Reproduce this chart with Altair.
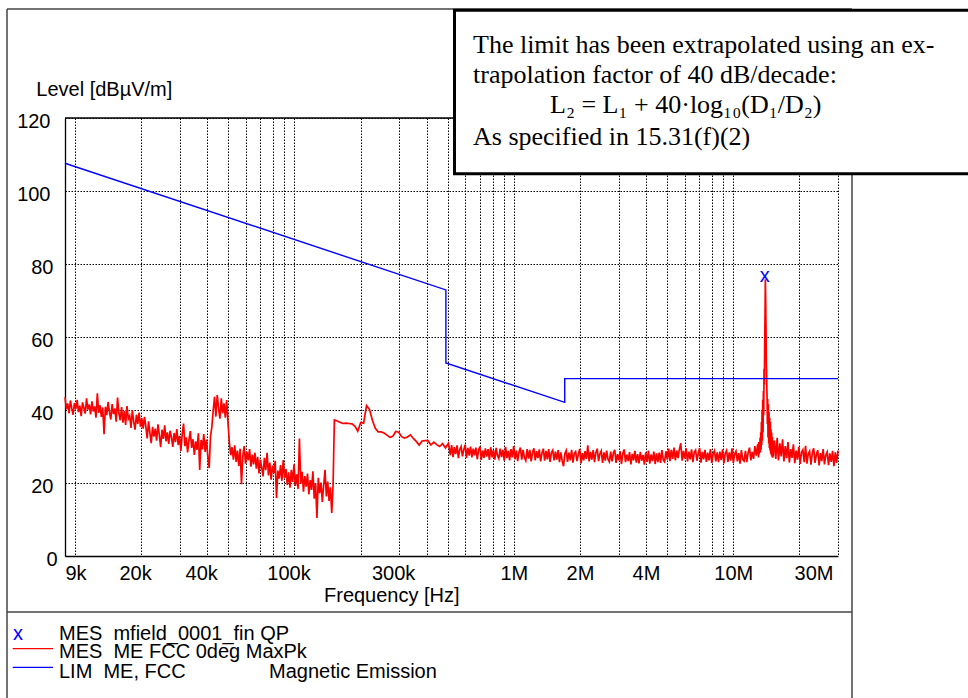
import altair as alt
import numpy as np
import pandas as pd

# ---------------- axis ticks ----------------
GRID_FREQS = [9e3, 1e4, 2e4, 3e4, 4e4, 5e4, 6e4, 7e4, 8e4, 9e4,
              1e5, 2e5, 3e5, 4e5, 5e5, 6e5, 7e5, 8e5, 9e5,
              1e6, 2e6, 3e6, 4e6, 5e6, 6e6, 7e6, 8e6, 9e6,
              1e7, 2e7, 3e7]
LABEL_FREQS = [9000, 20000, 40000, 100000, 300000, 1000000, 2000000, 4000000, 10000000, 30000000]
LEVEL_TICKS = [0, 20, 40, 60, 80, 100, 120]

seg_a_range = (9.0e3, 150.0e3)
seg_a_levels = [
    43.5, 40.2, 41.8, 39.1, 42.6, 40.5, 38.7, 41.9, 40.3, 42.8, 39.4, 41.2, 38.3, 42.1, 40.6, 39.0, 43.2, 40.1, 41.5, 38.8,
    42.4, 39.6, 41.0, 37.9, 44.6, 39.2, 41.3, 38.1, 40.7, 33.4, 40.9, 38.6, 42.2, 39.5, 37.4, 41.6, 38.9, 40.4, 36.8, 43.4,
    39.1, 37.2, 40.8, 36.5, 39.7, 35.9, 41.1, 37.6, 38.4, 35.1, 39.9, 36.8, 34.6, 38.7, 36.2, 39.3, 35.4, 37.8, 34.9, 38.1,
    35.5, 32.2, 36.9, 33.8, 30.9, 35.4, 32.7, 34.9, 31.6, 36.1, 33.2, 29.8, 34.6, 32.1, 35.8, 31.4, 33.9, 30.7, 34.3, 32.6,
    29.9, 33.7, 31.2, 34.8, 30.4, 32.9, 28.8, 33.3, 36.3, 30.1, 32.5, 28.4, 31.8, 34.2, 29.6, 32.0, 27.7, 31.4, 29.1, 33.6,
    23.6, 31.8, 29.2, 33.4, 28.5, 31.9, 27.3, 24.1, 32.7, 35.4,
    39.8, 43.6, 38.2, 44.1, 40.5, 37.6, 43.2, 39.1, 41.8, 37.9, 42.7, 36.4,
    31.2, 27.6, 29.8, 26.4, 30.3, 25.8, 28.9, 24.7, 29.4, 19.7, 27.5, 30.1, 25.3, 28.6, 26.2, 29.3, 24.5, 27.8,
    25.1, 28.3, 23.9, 27.2, 22.6, 26.4, 24.3, 21.8, 26.9, 23.5, 28.3, 22.1, 25.6, 20.9, 24.8, 22.7, 26.1, 15.9, 23.4, 21.2,
    24.9, 20.6, 26.3, 21.4, 23.8, 19.5, 22.9, 18.7, 23.6, 20.3, 25.1, 19.2, 22.4, 18.4, 32.2, 19.8, 23.1, 17.6, 21.9, 19.0,
    22.6, 16.9, 20.8, 18.1, 23.2, 15.7, 19.9, 10.4, 21.4, 17.2, 20.1, 14.8, 19.3, 23.6, 16.3, 20.4, 15.1, 18.8, 11.8, 19.5,
]
seg_b_range = (152.0e3, 503.0e3)
seg_b_levels = [
    37.3, 37.0, 36.6, 36.3, 36.4, 36.3, 36.2, 35.6, 34.2, 36.6,
    36.4, 41.2, 40.2, 37.2, 35.0, 34.0, 34.0, 33.7, 33.1, 32.5,
    32.8, 34.1, 33.9, 32.7, 32.3, 32.6, 33.2, 32.2, 31.4, 30.4,
    31.5, 31.6, 31.6, 30.4, 31.2, 30.5, 30.0, 30.8, 29.6, 30.9,
]
seg_c_range = (506.0e3, 12.9e6)
seg_c_levels = [
    30.1, 27.6, 30.4, 27.1, 29.8, 27.9, 30.3, 26.8, 29.2, 30.0, 27.3, 29.1, 30.5, 26.9, 29.6, 27.5, 30.0, 27.0, 29.4, 27.6,
    29.7, 26.5, 29.1, 30.0, 26.3, 28.9, 26.9, 29.5, 27.2, 29.3, 26.3, 29.8, 27.0, 29.0, 26.4, 29.6, 27.5, 26.7, 29.4, 27.1,
    29.1, 26.1, 29.9, 26.8, 28.8, 26.2, 29.3, 27.0, 30.1, 26.5, 28.9, 26.0, 28.6, 29.7, 26.4, 29.1, 26.9, 26.1, 29.3, 26.7,
    29.1, 25.9, 28.4, 29.5, 26.2, 28.7, 26.8, 29.2, 25.9, 28.2, 29.4, 26.1, 28.8, 26.5, 29.3, 25.8, 28.3, 29.0, 26.2, 28.6,
    26.4, 29.0, 25.7, 28.4, 26.1, 24.6, 28.0, 28.9, 25.8, 28.3, 26.2, 29.1, 25.6, 28.1, 28.6, 26.0, 27.9, 29.3, 25.4, 28.2,
    26.2, 28.7, 26.6, 30.3, 25.9, 28.5, 26.4, 29.0, 25.7, 28.3, 29.4, 26.0, 28.0, 28.8, 25.5, 28.4, 26.1, 28.9, 26.5, 25.8,
    28.6, 25.9, 28.2, 29.1, 25.5, 27.9, 26.2, 28.7, 25.2, 28.1, 29.2, 25.7, 27.8, 26.0, 28.5, 25.1, 28.0, 26.2, 28.8, 25.6,
    27.9, 25.4, 28.5, 26.1, 27.7, 25.0, 28.4, 25.8, 28.9, 25.3, 27.8, 26.0, 28.6, 25.2, 28.1, 25.7, 28.3, 25.5, 29.0, 26.3,
    25.8, 28.7, 26.4, 29.4, 26.0, 29.1, 26.6, 29.7, 26.2, 28.9, 26.8, 29.3, 30.9, 26.1, 28.8, 26.7, 29.5, 25.9, 28.6, 26.5,
    29.2, 25.7, 28.4, 29.0, 26.1, 28.1, 29.6, 25.6, 28.5, 26.5, 29.1, 25.8, 28.3, 26.2, 29.3, 25.5, 28.0, 28.8, 25.9, 28.4,
    25.7, 28.6, 26.3, 29.2, 25.4, 28.1, 28.9, 25.8, 28.4, 26.1, 29.5, 25.5, 27.9, 28.7, 25.9, 28.2, 25.3, 29.0, 26.4, 26.0,
    28.8, 25.7, 28.3, 29.7, 26.2, 28.5, 26.6, 30.1, 27.5, 30.4,
]
seg_p_range = (12.97e6, 15.27e6)
seg_p_levels = [
    30.5, 27.0, 31.2, 27.8, 30.8, 28.2, 32.4, 28.5, 33.9, 29.1,
    36.7, 30.4, 40.1, 31.6, 42.8, 33.9, 45.2, 38.6, 51.3, 47.0,
    58.9, 66.4, 75.8, 70.2, 61.5, 52.4, 47.8, 44.1, 36.2, 43.0,
    32.5, 41.6, 30.8, 39.4, 29.6, 37.9, 28.9, 36.8, 28.1, 34.7,
    27.6, 33.8, 27.2, 32.6, 26.9, 31.5, 27.3, 30.2,
]
seg_d_range = (15.4e6, 30.0e6)
seg_d_levels = [
    31.6, 26.6, 32.4, 26.2, 30.9, 27.3, 32.0, 25.9, 30.1, 26.8, 31.2, 25.6, 29.3, 26.9, 30.6, 25.4, 28.9, 26.4, 29.9, 25.2,
    28.4, 29.1, 25.7, 30.2, 25.3, 28.0, 28.7, 25.0, 28.3, 29.5, 25.5, 27.8, 29.0, 24.8, 28.2, 26.0, 29.3, 25.1, 27.7, 28.5,
    24.9, 28.1, 25.8, 28.8, 24.6, 28.4, 25.5, 28.9,
]

# ---------------- limit line (LIM ME, FCC) ----------------
limit_freq = [9.0e3, 490.0e3, 490.0e3, 1.705e6, 1.705e6, 30.0e6]
limit_level = [107.6, 72.9, 52.9, 42.1, 48.6, 48.6]

# ---------------- QP final measurement ----------------
qp_freq = [13.9e6]
qp_level = [76.4]


def segment(rng, levels):
    return pd.DataFrame({"freq": np.geomspace(rng[0], rng[1], len(levels)), "level": levels})


trace = pd.concat([
    segment(seg_a_range, seg_a_levels),
    segment(seg_b_range, seg_b_levels),
    segment(seg_c_range, seg_c_levels),
    segment(seg_p_range, seg_p_levels),
    segment(seg_d_range, seg_d_levels),
], ignore_index=True)
trace["idx"] = range(len(trace))

limit = pd.DataFrame({"freq": limit_freq, "level": limit_level, "idx": range(len(limit_freq))})
qp = pd.DataFrame({"freq": qp_freq, "level": qp_level})
one = pd.DataFrame({"k": [0]})

W, H = 773, 438
SANS = "Liberation Sans"
SERIF = "Liberation Serif"
FS = 20

xscale = alt.Scale(type="log", domain=[9e3, 30e6], nice=False)
yscale = alt.Scale(domain=[0, 120], nice=False, zero=False)

label_list = ",".join(str(v) for v in LABEL_FREQS)
x_axis = alt.Axis(
    values=GRID_FREQS,
    labelExpr=f"indexof([{label_list}], datum.value) >= 0 ? (datum.value >= 1e6 ? (datum.value/1e6) + 'M' : (datum.value/1e3) + 'k') : ''",
    title=None, grid=True, gridDash=[1.5, 1.5], gridColor="#000000", gridWidth=1, gridOpacity=1,
    ticks=False, tickSize=0, labelPadding=23, labelBaseline="alphabetic",
    labelFlush=True, labelOverlap=False, labelFont=SANS, labelFontSize=FS, labelColor="#000000",
    labelOffset={"condition": [{"test": "datum.value >= 30000000", "value": -5},
                               {"test": "datum.value > 9000 && datum.value < 1000000", "value": -6}],
                 "value": 0},
    domainColor="#000000", domainWidth=1.3, zindex=0,
)
y_axis = alt.Axis(
    values=LEVEL_TICKS, title=None, grid=True, gridDash=[1.5, 1.5], gridColor="#000000", gridWidth=1, gridOpacity=1,
    ticks=False, tickSize=0, labelFont=SANS, labelFontSize=FS, labelColor="#000000", labelAlign="right",
    labelBaseline="middle", labelOffset=3, labelFlush=False,
    labelPadding={"condition": [{"test": "datum.value >= 100", "value": 15},
                                {"test": "datum.value == 0", "value": 8}],
                  "value": 12},
    domainColor="#000000", domainWidth=1.3, zindex=0,
)

trace_line = alt.Chart(trace).mark_line(color="#ff0000", strokeWidth=1.7).encode(
    x=alt.X("freq:Q", scale=xscale, axis=x_axis),
    y=alt.Y("level:Q", scale=yscale, axis=y_axis),
    order="idx:Q",
)
limit_line = alt.Chart(limit).mark_line(color="#0000ff", strokeWidth=1.4).encode(
    x=alt.X("freq:Q", scale=xscale),
    y=alt.Y("level:Q", scale=yscale),
    order="idx:Q",
)
qp_mark = alt.Chart(qp).mark_text(text="x", font=SANS, fontSize=FS, color="#0000ff",
                                  baseline="alphabetic", dy=5).encode(
    x=alt.X("freq:Q", scale=xscale),
    y=alt.Y("level:Q", scale=yscale),
)
top_rule = alt.Chart(one).mark_rule(color="#000000", strokeWidth=1.3).encode(y=alt.value(0))


def rule(x, x2, y, y2, color="#444444", width=1.5):
    return alt.Chart(one).mark_rule(color=color, strokeWidth=width).encode(
        x=alt.value(x), x2=alt.value(x2), y=alt.value(y), y2=alt.value(y2))


def text(s, x, y, font=SANS, size=FS, color="#000000"):
    return alt.Chart(one).mark_text(align="left", baseline="alphabetic", font=font, fontSize=size,
                                    color=color).encode(x=alt.value(x), y=alt.value(y), text=alt.value(s))


frame = [
    rule(-58, -58, -109, 600),
    rule(-58, 787, -109, -109),
    rule(787, 787, -109, 600),
    rule(-58, 787, 494, 494),
]

box = alt.Chart(one).mark_rect(fill="#ffffff", stroke="#000000", strokeWidth=3).encode(
    x=alt.value(389.5), x2=alt.value(930), y=alt.value(-107.7), y2=alt.value(55.7))

box_text = [
    text("The limit has been extrapolated using an ex-", 408, -65.3, SERIF, 26),
    text("trapolation factor of 40 dB/decade:", 408, -35.3, SERIF, 26),
    text("L\u2082 = L\u2081 + 40\u00b7log\u2081\u2080(D\u2081/D\u2082)", 485, -4.7, SERIF, 26),
    text("As specified in 15.31(f)(2)", 408, 27, SERIF, 26),
]

titles = [
    text("Level [dB\u00b5V/m]", -28.7, -22.5),
    text("Frequency [Hz]", 259, 484),
]

NB = "\u00a0"
legend = [
    text("x", -52, 522, color="#0000ff"),
    text("MES" + NB * 2 + "mfield_0001_fin QP", -6, 522),
    rule(-52.3, -12, 530.7, 530.7, color="#ff0000", width=1.3),
    text("MES" + NB * 2 + "ME FCC 0deg MaxPk", -6, 540.3),
    rule(-52.3, -12, 549.3, 549.3, color="#0000ff", width=1.3),
    text("LIM" + NB * 2 + "ME, FCC", -6, 559.7),
    text("Magnetic Emission", 204, 559.7),
]

chart = alt.layer(
    trace_line, limit_line, qp_mark, top_rule, *frame, box, *box_text, *titles, *legend
).properties(
    width=W, height=H,
    autosize=alt.AutoSizeParams(type="none"),
    padding={"left": 65, "top": 118, "right": 130, "bottom": 142},
    background="#ffffff",
).configure_view(stroke=None)

chart.save("out.html", embed_options={"renderer": "svg", "actions": False})
